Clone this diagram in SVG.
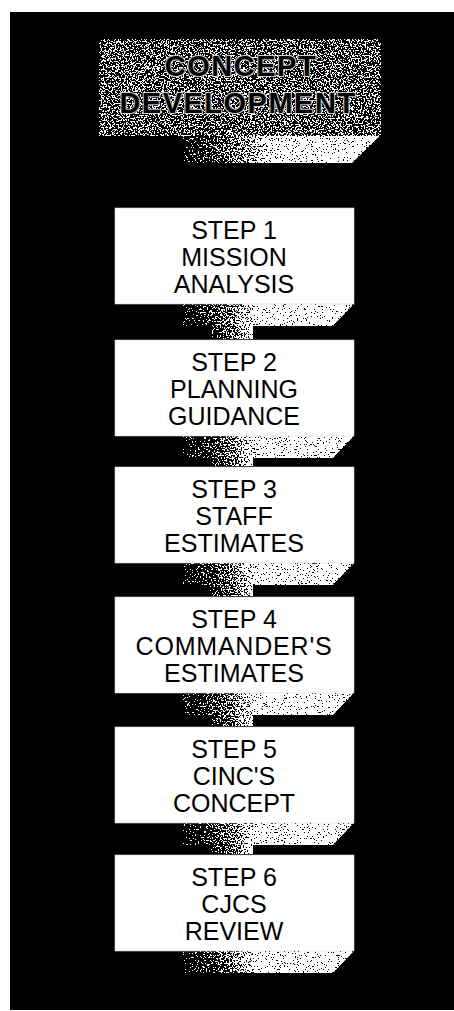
<svg xmlns="http://www.w3.org/2000/svg" width="454" height="1011" viewBox="0 0 454 1011">
<style>
.box{fill:#fff;stroke:#d8d8d8;stroke-width:0.6}
.lbl{font-family:"Liberation Sans",Arial,sans-serif;font-size:25px;fill:#000;text-anchor:middle}
.ttl{font-family:"Liberation Sans",Arial,sans-serif;font-weight:bold;font-size:29px;letter-spacing:1.5px;fill:#000;stroke:#cfcfcf;stroke-width:2;paint-order:stroke;text-anchor:middle}
.bar{fill:url(#barG);filter:url(#dither)}
.tbar{fill:url(#tbarG);filter:url(#dither)}
.stub{fill:url(#stubG);filter:url(#dither)}
</style>
<defs>
<filter id="dither" x="0" y="0" width="1" height="1" color-interpolation-filters="sRGB">
<feTurbulence type="fractalNoise" baseFrequency="0.65" numOctaves="2" seed="7" result="n"/>
<feColorMatrix in="n" type="matrix" values="1 0 0 0 0  1 0 0 0 0  1 0 0 0 0  0 0 0 0 1" result="ng"/>
<feComposite in="SourceGraphic" in2="ng" operator="arithmetic" k1="0" k2="1" k3="3" k4="-1.5" result="sum"/>
<feComponentTransfer in="sum" result="th">
<feFuncR type="discrete" tableValues="0 1"/>
<feFuncG type="discrete" tableValues="0 1"/>
<feFuncB type="discrete" tableValues="0 1"/>
<feFuncA type="linear" slope="0" intercept="1"/>
</feComponentTransfer>
<feComposite in="th" in2="SourceAlpha" operator="in"/>
</filter>
<linearGradient id="barG" x1="0" y1="0" x2="1" y2="0">
<stop offset="0" stop-color="#000"/>
<stop offset="0.12" stop-color="#222"/>
<stop offset="0.3" stop-color="#808080"/>
<stop offset="0.44" stop-color="#fff"/>
<stop offset="1" stop-color="#fff"/>
</linearGradient>
<linearGradient id="tbarG" x1="0" y1="0" x2="1" y2="0">
<stop offset="0" stop-color="#000"/>
<stop offset="0.1" stop-color="#282828"/>
<stop offset="0.32" stop-color="#909090"/>
<stop offset="0.48" stop-color="#fff"/>
<stop offset="1" stop-color="#fff"/>
</linearGradient>
<linearGradient id="stubG" x1="0" y1="0" x2="1" y2="0">
<stop offset="0" stop-color="#111"/>
<stop offset="0.5" stop-color="#606060"/>
<stop offset="0.9" stop-color="#c8c8c8"/>
<stop offset="1" stop-color="#fff"/>
</linearGradient>
</defs>
<rect x="0" y="0" width="454" height="1011" fill="#fff"/>
<rect x="10" y="12" width="444" height="998" fill="#000"/>

<g id="title">
<rect x="99" y="39" width="282" height="97" fill="#606060" filter="url(#dither)"/>
<polygon class="tbar" points="183,136 380,136 352,163 183,163"/>
<text class="ttl" x="241" y="76">CONCEPT</text>
<text class="ttl" x="238" y="113">DEVELOPMENT</text>
</g>

<g id="connectors">
<rect class="stub" x="210" y="314" width="43" height="25"/>
<rect class="stub" x="210" y="446" width="43" height="20"/>
<rect class="stub" x="210" y="573" width="43" height="23"/>
<rect class="stub" x="210" y="703" width="43" height="23"/>
<rect class="stub" x="210" y="833" width="43" height="21"/>
</g>

<g id="step1">
<polygon class="bar" points="183,304 354,304 333,326 183,326"/>
<rect class="box" x="115" y="208" width="239" height="96"/>
<text class="lbl" x="234" y="239">STEP 1</text>
<text class="lbl" x="234" y="266">MISSION</text>
<text class="lbl" x="234" y="293">ANALYSIS</text>
</g>

<g id="step2">
<polygon class="bar" points="183,436 354,436 333,458 183,458"/>
<rect class="box" x="115" y="340" width="239" height="96"/>
<text class="lbl" x="234" y="371">STEP 2</text>
<text class="lbl" x="234" y="398">PLANNING</text>
<text class="lbl" x="234" y="425">GUIDANCE</text>
</g>

<g id="step3">
<polygon class="bar" points="183,563 354,563 333,585 183,585"/>
<rect class="box" x="115" y="467" width="239" height="96"/>
<text class="lbl" x="234" y="498">STEP 3</text>
<text class="lbl" x="234" y="525">STAFF</text>
<text class="lbl" x="234" y="552">ESTIMATES</text>
</g>

<g id="step4">
<polygon class="bar" points="183,693 354,693 333,715 183,715"/>
<rect class="box" x="115" y="597" width="239" height="96"/>
<text class="lbl" x="234" y="628">STEP 4</text>
<text class="lbl" x="234" y="655" letter-spacing="0.8">COMMANDER'S</text>
<text class="lbl" x="234" y="682">ESTIMATES</text>
</g>

<g id="step5">
<polygon class="bar" points="183,823 354,823 333,845 183,845"/>
<rect class="box" x="115" y="727" width="239" height="96"/>
<text class="lbl" x="234" y="758">STEP 5</text>
<text class="lbl" x="234" y="785">CINC'S</text>
<text class="lbl" x="234" y="812">CONCEPT</text>
</g>

<g id="step6">
<polygon class="bar" points="183,951 354,951 333,973 183,973"/>
<rect class="box" x="115" y="855" width="239" height="96"/>
<text class="lbl" x="234" y="886">STEP 6</text>
<text class="lbl" x="234" y="913">CJCS</text>
<text class="lbl" x="234" y="940">REVIEW</text>
</g>
</svg>
